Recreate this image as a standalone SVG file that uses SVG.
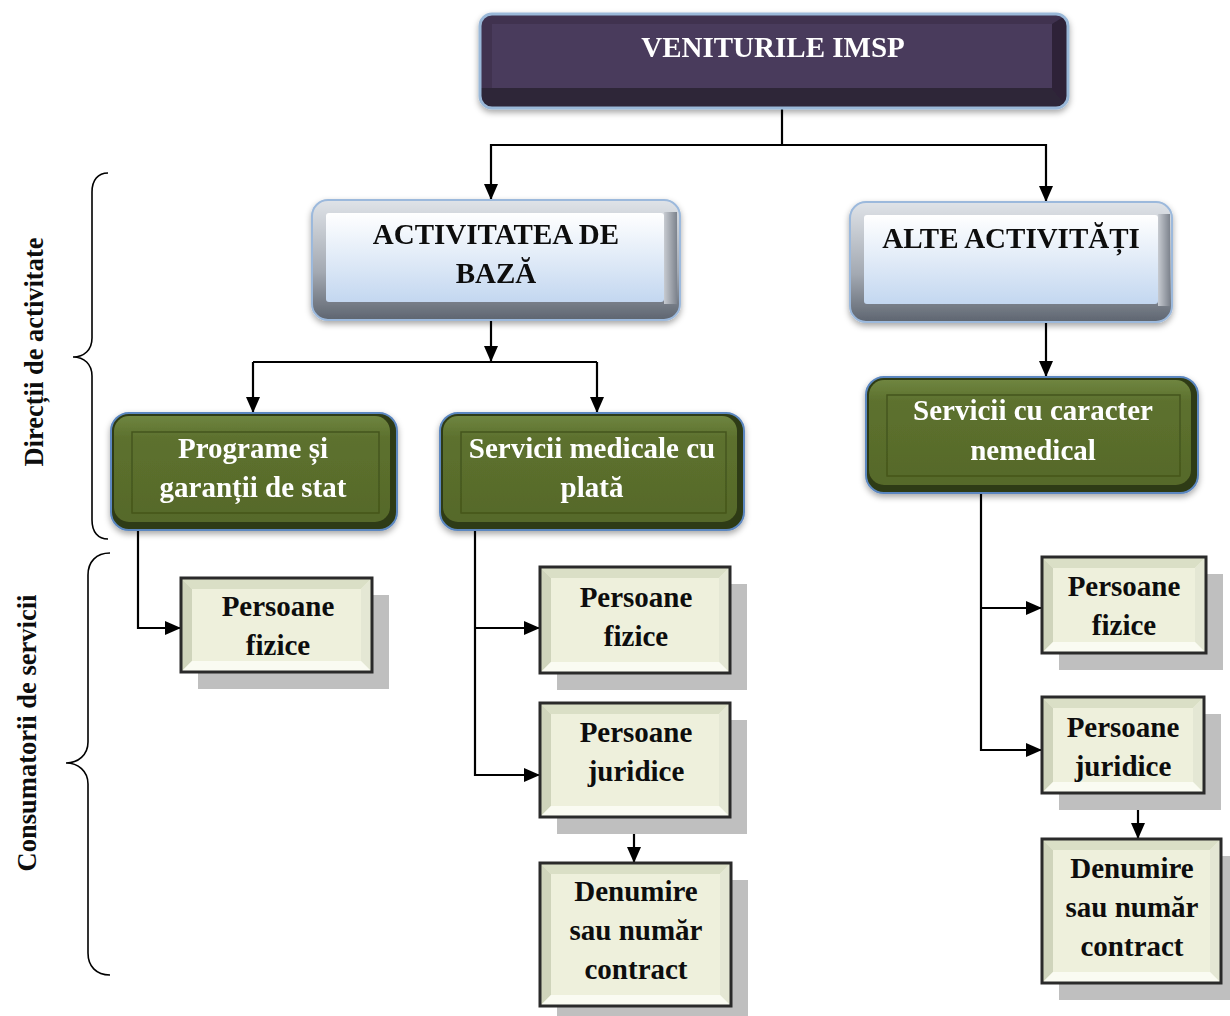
<svg xmlns="http://www.w3.org/2000/svg" width="1230" height="1016" viewBox="0 0 1230 1016">
  <defs>
    <style>
      text { font-family: "Liberation Serif", "Times New Roman", serif; font-weight: bold; text-anchor: middle; }
      .t28 { font-size: 29px; }
      .white { fill: #ffffff; }
      .dark { fill: #0d0d0d; }
      .side { font-size: 26.5px; fill: #0d0d0d; }
      .conn { fill: none; stroke: #000000; stroke-width: 2.2; }
      .brace { fill: none; stroke: #000000; stroke-width: 1.6; }
      .shadow { fill: #bfbfbf; }
      .cream { fill: #eef0dc; }
      .frame { fill: none; stroke: #2a2a2a; stroke-width: 3; }
      .bt { fill: #dadfc6; }
      .bl { fill: #cfd4bb; }
      .br { fill: #e4e7d4; }
      .bb { fill: #fafbf2; }
    </style>
    <linearGradient id="blueFace" x1="0" y1="0" x2="0" y2="1">
      <stop offset="0" stop-color="#ffffff"/>
      <stop offset="1" stop-color="#c3d7f0"/>
    </linearGradient>
    <linearGradient id="greyFrame" x1="0" y1="0" x2="0" y2="1">
      <stop offset="0" stop-color="#dfe3e8"/>
      <stop offset="0.6" stop-color="#a3a9b2"/>
      <stop offset="1" stop-color="#5e6570"/>
    </linearGradient>
    <linearGradient id="greyRight" x1="0" y1="0" x2="1" y2="0">
      <stop offset="0" stop-color="#c7cbd1"/>
      <stop offset="1" stop-color="#7d838d"/>
    </linearGradient>
    <linearGradient id="greenFace" x1="0" y1="0" x2="0" y2="1">
      <stop offset="0" stop-color="#6f8540"/>
      <stop offset="0.2" stop-color="#5d712e"/>
      <stop offset="1" stop-color="#56692a"/>
    </linearGradient>
    <clipPath id="rootClip">
      <rect x="480" y="14" width="588" height="94" rx="12"/>
    </clipPath>
    <filter id="soft" x="-10%" y="-10%" width="120%" height="130%">
      <feDropShadow dx="0" dy="3" stdDeviation="3" flood-color="#000000" flood-opacity="0.35"/>
    </filter>
    <marker id="arrow" viewBox="0 0 16 14" refX="16" refY="7" markerWidth="16" markerHeight="14" markerUnits="userSpaceOnUse" orient="auto">
      <path d="M0,0 L16,7 L0,14 Z" fill="#000000"/>
    </marker>
  </defs>

  <rect width="1230" height="1016" fill="#ffffff"/>

  <!-- side braces and their labels -->
  <g id="brace-directions">
    <path class="brace" d="M108,173 C98,173 92,180 92,192 V338 C92,350 84,357 73,357 C84,357 92,364 92,376 V520 C92,532 98,539 108,539"/>
    <text class="side" transform="translate(43,352) rotate(-90)">Direcții de activitate</text>
  </g>
  <g id="brace-consumers">
    <path class="brace" d="M110,553 C96,553 88,562 88,575 V742 C88,755 78,763 66,763 C78,763 88,771 88,784 V953 C88,966 96,975 110,975"/>
    <text class="side" transform="translate(36,733) rotate(-90)">Consumatorii de servicii</text>
  </g>

  <!-- connectors -->
  <g id="connectors">
    <path class="conn" d="M782,108 V145"/>
    <path class="conn" d="M782,145 H491 V200" marker-end="url(#arrow)"/>
    <path class="conn" d="M782,145 H1046 V202" marker-end="url(#arrow)"/>
    <path class="conn" d="M491,320 V362" marker-end="url(#arrow)"/>
    <path class="conn" d="M253,362 H597"/>
    <path class="conn" d="M253,362 V413" marker-end="url(#arrow)"/>
    <path class="conn" d="M597,362 V413" marker-end="url(#arrow)"/>
    <path class="conn" d="M1046,322 V377" marker-end="url(#arrow)"/>
    <path class="conn" d="M138,530 V628 H181" marker-end="url(#arrow)"/>
    <path class="conn" d="M475,530 V775 H540" marker-end="url(#arrow)"/>
    <path class="conn" d="M475,628 H540" marker-end="url(#arrow)"/>
    <path class="conn" d="M634,817 V863" marker-end="url(#arrow)"/>
    <path class="conn" d="M981,493 V750 H1042" marker-end="url(#arrow)"/>
    <path class="conn" d="M981,608 H1042" marker-end="url(#arrow)"/>
    <path class="conn" d="M1138,793 V839" marker-end="url(#arrow)"/>
  </g>

  <!-- root -->
  <g id="node-venituri" filter="url(#soft)">
    <g clip-path="url(#rootClip)">
      <rect x="480" y="14" width="588" height="94" fill="#3f3250"/>
      <polygon points="480,88 1068,88 1068,108 480,108" fill="#2f2539"/>
      <polygon points="1052,24 1068,14 1068,108 1052,88" fill="#2d2338"/>
      <rect x="492" y="24" width="560" height="64" fill="#4a3a5c"/>
    </g>
    <rect x="480" y="14" width="588" height="94" rx="12" fill="none" stroke="#9ab8d8" stroke-width="3"/>
    <text class="t28 white" x="773" y="57">VENITURILE IMSP</text>
  </g>

  <!-- second level -->
  <g id="node-activitatea" filter="url(#soft)">
    <rect x="312" y="200" width="368" height="120" rx="16" fill="url(#greyFrame)" stroke="#9cb9dc" stroke-width="2"/>
    <rect x="664" y="212" width="13" height="92" fill="url(#greyRight)"/>
    <rect x="326" y="213" width="338" height="89" rx="3" fill="url(#blueFace)"/>
    <text class="t28 dark" x="496" y="244">ACTIVITATEA DE</text>
    <text class="t28 dark" x="496" y="283">BAZĂ</text>
  </g>
  <g id="node-alte" filter="url(#soft)">
    <rect x="850" y="202" width="322" height="120" rx="16" fill="url(#greyFrame)" stroke="#9cb9dc" stroke-width="2"/>
    <rect x="1158" y="214" width="12" height="92" fill="url(#greyRight)"/>
    <rect x="864" y="215" width="294" height="89" rx="3" fill="url(#blueFace)"/>
    <text class="t28 dark" x="1011" y="248">ALTE ACTIVITĂȚI</text>
  </g>

  <!-- third level -->
  <g id="node-programe" filter="url(#soft)">
    <rect x="111" y="413" width="286" height="117" rx="18" fill="#2f3b12" stroke="#5b87c0" stroke-width="2"/>
    <rect x="114" y="416" width="276" height="106" rx="15" fill="url(#greenFace)"/>
    <rect x="132" y="432" width="247" height="81" fill="none" stroke="#46561d" stroke-width="1.5"/>
    <text class="t28 white" x="253" y="458">Programe și</text>
    <text class="t28 white" x="253" y="497">garanții de stat</text>
  </g>
  <g id="node-servicii-medicale" filter="url(#soft)">
    <rect x="440" y="413" width="304" height="117" rx="18" fill="#2f3b12" stroke="#5b87c0" stroke-width="2"/>
    <rect x="443" y="416" width="294" height="106" rx="15" fill="url(#greenFace)"/>
    <rect x="461" y="432" width="265" height="81" fill="none" stroke="#46561d" stroke-width="1.5"/>
    <text class="t28 white" x="592" y="458">Servicii medicale cu</text>
    <text class="t28 white" x="592" y="497">plată</text>
  </g>
  <g id="node-servicii-nemedicale" filter="url(#soft)">
    <rect x="866" y="377" width="332" height="116" rx="18" fill="#2f3b12" stroke="#5b87c0" stroke-width="2"/>
    <rect x="869" y="380" width="322" height="105" rx="15" fill="url(#greenFace)"/>
    <rect x="887" y="395" width="293" height="81" fill="none" stroke="#46561d" stroke-width="1.5"/>
    <text class="t28 white" x="1033" y="420">Servicii cu caracter</text>
    <text class="t28 white" x="1033" y="460">nemedical</text>
  </g>

  <!-- consumers: left column -->
  <g id="node-pf-programe">
    <rect class="shadow" x="198" y="595" width="191" height="94"/>
    <rect class="cream" x="181" y="578" width="191" height="94"/>
    <polygon class="bt" points="181,578 372,578 361,589 192,589"/>
    <polygon class="bl" points="181,578 192,589 192,661 181,672"/>
    <polygon class="br" points="372,578 372,672 361,661 361,589"/>
    <polygon class="bb" points="181,672 192,661 361,661 372,672"/>
    <rect class="frame" x="181" y="578" width="191" height="94"/>
    <text class="t28 dark" x="278" y="616">Persoane</text>
    <text class="t28 dark" x="278" y="655">fizice</text>
  </g>

  <!-- consumers: middle column -->
  <g id="node-pf-medicale">
    <rect class="shadow" x="557" y="584" width="190" height="106"/>
    <rect class="cream" x="540" y="567" width="190" height="106"/>
    <polygon class="bt" points="540,567 730,567 719,578 551,578"/>
    <polygon class="bl" points="540,567 551,578 551,662 540,673"/>
    <polygon class="br" points="730,567 730,673 719,662 719,578"/>
    <polygon class="bb" points="540,673 551,662 719,662 730,673"/>
    <rect class="frame" x="540" y="567" width="190" height="106"/>
    <text class="t28 dark" x="636" y="607">Persoane</text>
    <text class="t28 dark" x="636" y="646">fizice</text>
  </g>
  <g id="node-pj-medicale">
    <rect class="shadow" x="557" y="720" width="190" height="114"/>
    <rect class="cream" x="540" y="703" width="190" height="114"/>
    <polygon class="bt" points="540,703 730,703 719,714 551,714"/>
    <polygon class="bl" points="540,703 551,714 551,806 540,817"/>
    <polygon class="br" points="730,703 730,817 719,806 719,714"/>
    <polygon class="bb" points="540,817 551,806 719,806 730,817"/>
    <rect class="frame" x="540" y="703" width="190" height="114"/>
    <text class="t28 dark" x="636" y="742">Persoane</text>
    <text class="t28 dark" x="636" y="781">juridice</text>
  </g>
  <g id="node-contract-medicale">
    <rect class="shadow" x="557" y="880" width="191" height="143"/>
    <rect class="cream" x="540" y="863" width="191" height="143"/>
    <polygon class="bt" points="540,863 731,863 720,874 551,874"/>
    <polygon class="bl" points="540,863 551,874 551,995 540,1006"/>
    <polygon class="br" points="731,863 731,1006 720,995 720,874"/>
    <polygon class="bb" points="540,1006 551,995 720,995 731,1006"/>
    <rect class="frame" x="540" y="863" width="191" height="143"/>
    <text class="t28 dark" x="636" y="901">Denumire</text>
    <text class="t28 dark" x="636" y="940">sau număr</text>
    <text class="t28 dark" x="636" y="979">contract</text>
  </g>

  <!-- consumers: right column -->
  <g id="node-pf-nemedicale">
    <rect class="shadow" x="1059" y="574" width="164" height="96"/>
    <rect class="cream" x="1042" y="557" width="164" height="96"/>
    <polygon class="bt" points="1042,557 1206,557 1195,568 1053,568"/>
    <polygon class="bl" points="1042,557 1053,568 1053,642 1042,653"/>
    <polygon class="br" points="1206,557 1206,653 1195,642 1195,568"/>
    <polygon class="bb" points="1042,653 1053,642 1195,642 1206,653"/>
    <rect class="frame" x="1042" y="557" width="164" height="96"/>
    <text class="t28 dark" x="1124" y="596">Persoane</text>
    <text class="t28 dark" x="1124" y="635">fizice</text>
  </g>
  <g id="node-pj-nemedicale">
    <rect class="shadow" x="1059" y="714" width="162" height="96"/>
    <rect class="cream" x="1042" y="697" width="162" height="96"/>
    <polygon class="bt" points="1042,697 1204,697 1193,708 1053,708"/>
    <polygon class="bl" points="1042,697 1053,708 1053,782 1042,793"/>
    <polygon class="br" points="1204,697 1204,793 1193,782 1193,708"/>
    <polygon class="bb" points="1042,793 1053,782 1193,782 1204,793"/>
    <rect class="frame" x="1042" y="697" width="162" height="96"/>
    <text class="t28 dark" x="1123" y="737">Persoane</text>
    <text class="t28 dark" x="1123" y="776">juridice</text>
  </g>
  <g id="node-contract-nemedicale">
    <rect class="shadow" x="1059" y="856" width="179" height="144"/>
    <rect class="cream" x="1042" y="839" width="179" height="144"/>
    <polygon class="bt" points="1042,839 1221,839 1210,850 1053,850"/>
    <polygon class="bl" points="1042,839 1053,850 1053,972 1042,983"/>
    <polygon class="br" points="1221,839 1221,983 1210,972 1210,850"/>
    <polygon class="bb" points="1042,983 1053,972 1210,972 1221,983"/>
    <rect class="frame" x="1042" y="839" width="179" height="144"/>
    <text class="t28 dark" x="1132" y="878">Denumire</text>
    <text class="t28 dark" x="1132" y="917">sau număr</text>
    <text class="t28 dark" x="1132" y="956">contract</text>
  </g>
</svg>
